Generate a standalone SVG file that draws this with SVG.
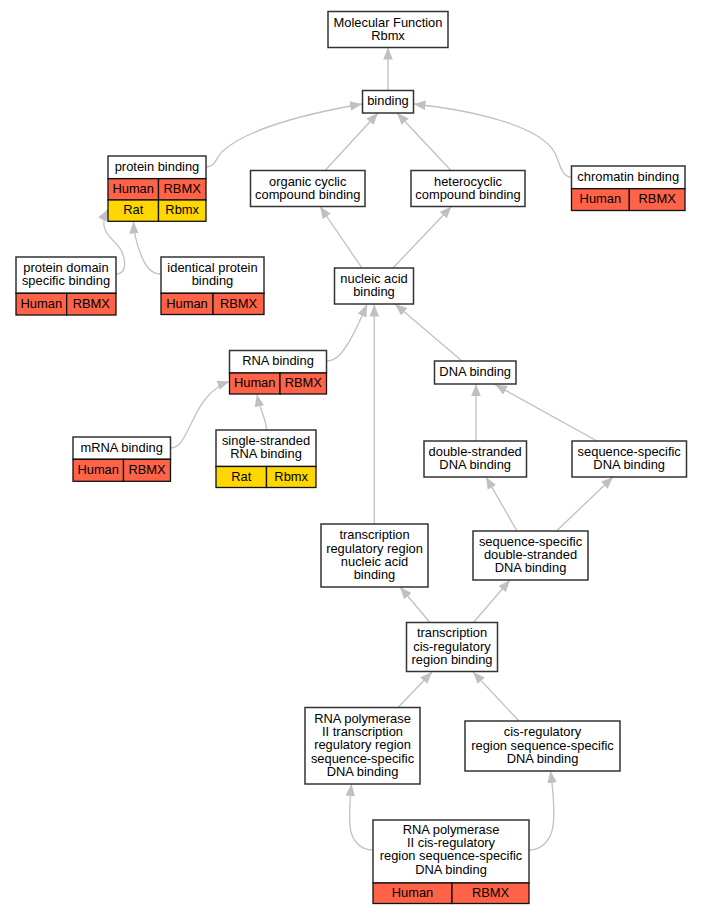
<svg xmlns="http://www.w3.org/2000/svg" width="703" height="915" viewBox="0 0 703 915">
<style>
.box{fill:#ffffff;stroke:#333333;stroke-width:1.5}
.hum{fill:#ff6347;stroke:#111111;stroke-width:1.3}
.rat{fill:#ffd700;stroke:#111111;stroke-width:1.3}
text{font-family:"Liberation Sans",Arial,sans-serif;font-size:12.9px;fill:#000000;text-anchor:middle}
.edge{fill:none;stroke:#c0c0c0;stroke-width:1.3;marker-end:url(#arr)}
</style>
<defs>
<marker id="arr" markerUnits="userSpaceOnUse" markerWidth="13" markerHeight="10" refX="12" refY="5" orient="auto" viewBox="0 0 13 10">
<path d="M0,0.2 L12,5 L0,9.8 z" fill="#c0c0c0"/>
</marker>
</defs>
<rect width="703" height="915" fill="#ffffff"/>
<g id="edges">
<path class="edge" d="M388,90.5 L388,47.5"/>
<path class="edge" d="M206,167 C216,167 216,156 224,150 C250,128 310,113 362,104"/>
<path class="edge" d="M325,170.5 L378,113"/>
<path class="edge" d="M451,170.5 L397,113"/>
<path class="edge" d="M571.5,177 C561,177 560,163 555,153 C540,125 470,110 413.5,104"/>
<path class="edge" d="M116,274 C125,274 127,264 122,252 C116,238 95,234 108,209"/>
<path class="edge" d="M161,274 C150,274 145,265 141,255 C137,245 134,235 133.5,221.5"/>
<path class="edge" d="M362,268 L320,206.5"/>
<path class="edge" d="M393,268 L451.5,206.5"/>
<path class="edge" d="M326.5,361 C337,361 342,352 347,345 C354,335 361,318 367,304.5"/>
<path class="edge" d="M374.3,524 L374.3,304.5"/>
<path class="edge" d="M462,361 L395,304"/>
<path class="edge" d="M170.5,448 C181,448 185,435 193,420 C200,405 210,388 229.5,381.5"/>
<path class="edge" d="M266.5,430 C266.5,420 260,410 257,394.5"/>
<path class="edge" d="M476,441 L476,384"/>
<path class="edge" d="M597,441 L495,384.5"/>
<path class="edge" d="M517,531 L486,477"/>
<path class="edge" d="M556.5,531 L613,477"/>
<path class="edge" d="M430,622.5 L400,587"/>
<path class="edge" d="M473.5,622.5 L510,580"/>
<path class="edge" d="M398,707.5 L432,672"/>
<path class="edge" d="M519,721 L473,672"/>
<path class="edge" d="M373,850 C360,850 351,840 350,826 C349,812 350,798 351.5,784"/>
<path class="edge" d="M529,850 C542,850 551,840 553,826 C555,812 553,790 550.5,771"/>
</g>
<g id="n_mf">
<rect class="box" x="328" y="11.5" width="120" height="36"/>
<text x="388" y="26.5">Molecular Function</text>
<text x="388" y="39.7">Rbmx</text>
</g>
<g id="n_binding">
<rect class="box" x="362.5" y="90.5" width="51" height="22.5"/>
<text x="388" y="105.4">binding</text>
</g>
<g id="n_protein_binding">
<rect class="box" x="108" y="156" width="98" height="22.7"/>
<text x="157" y="170.9">protein binding</text>
<rect class="hum" x="108" y="178.7" width="50.5" height="21.3"/>
<rect class="hum" x="158.5" y="178.7" width="47.5" height="21.3"/>
<rect class="rat" x="108" y="200" width="50.5" height="21.3"/>
<rect class="rat" x="158.5" y="200" width="47.5" height="21.3"/>
<text x="133.2" y="193.1">Human</text>
<text x="182.2" y="193.1">RBMX</text>
<text x="133.2" y="214.4">Rat</text>
<text x="182.2" y="214.4">Rbmx</text>
</g>
<g id="n_organic">
<rect class="box" x="250.5" y="170.5" width="114.5" height="36"/>
<text x="307.7" y="185.5">organic cyclic</text>
<text x="307.7" y="198.7">compound binding</text>
</g>
<g id="n_hetero">
<rect class="box" x="411" y="170.5" width="114" height="36"/>
<text x="468" y="185.5">heterocyclic</text>
<text x="468" y="198.7">compound binding</text>
</g>
<g id="n_chromatin">
<rect class="box" x="571.5" y="166" width="113.5" height="22.7"/>
<text x="628.2" y="180.9">chromatin binding</text>
<rect class="hum" x="571.5" y="188.7" width="57.8" height="21.8"/>
<rect class="hum" x="629.3" y="188.7" width="55.7" height="21.8"/>
<text x="600.4" y="203.2">Human</text>
<text x="657.2" y="203.2">RBMX</text>
</g>
<g id="n_protein_domain">
<rect class="box" x="16" y="257" width="100" height="36.3"/>
<text x="66" y="272.1">protein domain</text>
<text x="66" y="285.3">specific binding</text>
<rect class="hum" x="16" y="293.3" width="50.7" height="21.7"/>
<rect class="hum" x="66.7" y="293.3" width="49.3" height="21.7"/>
<text x="41.3" y="307.7">Human</text>
<text x="91.3" y="307.7">RBMX</text>
</g>
<g id="n_identical">
<rect class="box" x="161" y="257" width="103" height="36.3"/>
<text x="212.5" y="272.1">identical protein</text>
<text x="212.5" y="285.3">binding</text>
<rect class="hum" x="161" y="293.3" width="52" height="21.2"/>
<rect class="hum" x="213" y="293.3" width="51" height="21.2"/>
<text x="187" y="307.5">Human</text>
<text x="238.5" y="307.5">RBMX</text>
</g>
<g id="n_nucleic">
<rect class="box" x="334.5" y="268" width="79" height="36"/>
<text x="374" y="283">nucleic acid</text>
<text x="374" y="296.2">binding</text>
</g>
<g id="n_rna">
<rect class="box" x="229.5" y="350.5" width="97" height="22.5"/>
<text x="278" y="365.3">RNA binding</text>
<rect class="hum" x="229.5" y="373" width="50.5" height="21"/>
<rect class="hum" x="280" y="373" width="46.5" height="21"/>
<text x="254.7" y="387.1">Human</text>
<text x="303.3" y="387.1">RBMX</text>
</g>
<g id="n_dna">
<rect class="box" x="434.5" y="361" width="81.5" height="23"/>
<text x="475.2" y="376.1">DNA binding</text>
</g>
<g id="n_mrna">
<rect class="box" x="73" y="437" width="97.5" height="22.3"/>
<text x="121.7" y="451.7">mRNA binding</text>
<rect class="hum" x="73" y="459.3" width="50.5" height="22"/>
<rect class="hum" x="123.5" y="459.3" width="47" height="22"/>
<text x="98.2" y="473.9">Human</text>
<text x="147" y="473.9">RBMX</text>
</g>
<g id="n_ssrna">
<rect class="box" x="216" y="430" width="100" height="36.5"/>
<text x="266" y="445.2">single-stranded</text>
<text x="266" y="458.4">RNA binding</text>
<rect class="rat" x="216" y="466.5" width="50.5" height="21"/>
<rect class="rat" x="266.5" y="466.5" width="49.5" height="21"/>
<text x="241.2" y="480.6">Rat</text>
<text x="291.2" y="480.6">Rbmx</text>
</g>
<g id="n_dsdna">
<rect class="box" x="424" y="441" width="102.5" height="36"/>
<text x="475.2" y="456">double-stranded</text>
<text x="475.2" y="469.2">DNA binding</text>
</g>
<g id="n_seqdna">
<rect class="box" x="572" y="441" width="114.5" height="36"/>
<text x="629.2" y="456">sequence-specific</text>
<text x="629.2" y="469.2">DNA binding</text>
</g>
<g id="n_trreg">
<rect class="box" x="321" y="524" width="107" height="63"/>
<text x="374.5" y="539.3">transcription</text>
<text x="374.5" y="552.5">regulatory region</text>
<text x="374.5" y="565.7">nucleic acid</text>
<text x="374.5" y="578.9">binding</text>
</g>
<g id="n_seqds">
<rect class="box" x="473" y="531" width="115" height="49"/>
<text x="530.5" y="545.9">sequence-specific</text>
<text x="530.5" y="559.1">double-stranded</text>
<text x="530.5" y="572.3">DNA binding</text>
</g>
<g id="n_tcrb">
<rect class="box" x="406.5" y="622.5" width="91" height="49"/>
<text x="452" y="637.4">transcription</text>
<text x="452" y="650.6">cis-regulatory</text>
<text x="452" y="663.8">region binding</text>
</g>
<g id="n_rnapol_trr">
<rect class="box" x="305" y="707.5" width="115" height="76.5"/>
<text x="362.5" y="722.9">RNA polymerase</text>
<text x="362.5" y="736.1">II transcription</text>
<text x="362.5" y="749.3">regulatory region</text>
<text x="362.5" y="762.5">sequence-specific</text>
<text x="362.5" y="775.7">DNA binding</text>
</g>
<g id="n_cisreg">
<rect class="box" x="465" y="721" width="155" height="50"/>
<text x="542.5" y="736.4">cis-regulatory</text>
<text x="542.5" y="749.6">region sequence-specific</text>
<text x="542.5" y="762.8">DNA binding</text>
</g>
<g id="n_rnapol_cis">
<rect class="box" x="373" y="820" width="156" height="63"/>
<text x="451" y="834">RNA polymerase</text>
<text x="451" y="847.2">II cis-regulatory</text>
<text x="451" y="860.4">region sequence-specific</text>
<text x="451" y="873.6">DNA binding</text>
<rect class="hum" x="373" y="883" width="79" height="20.5"/>
<rect class="hum" x="452" y="883" width="77" height="20.5"/>
<text x="412.5" y="896.9">Human</text>
<text x="490.5" y="896.9">RBMX</text>
</g>
</svg>
